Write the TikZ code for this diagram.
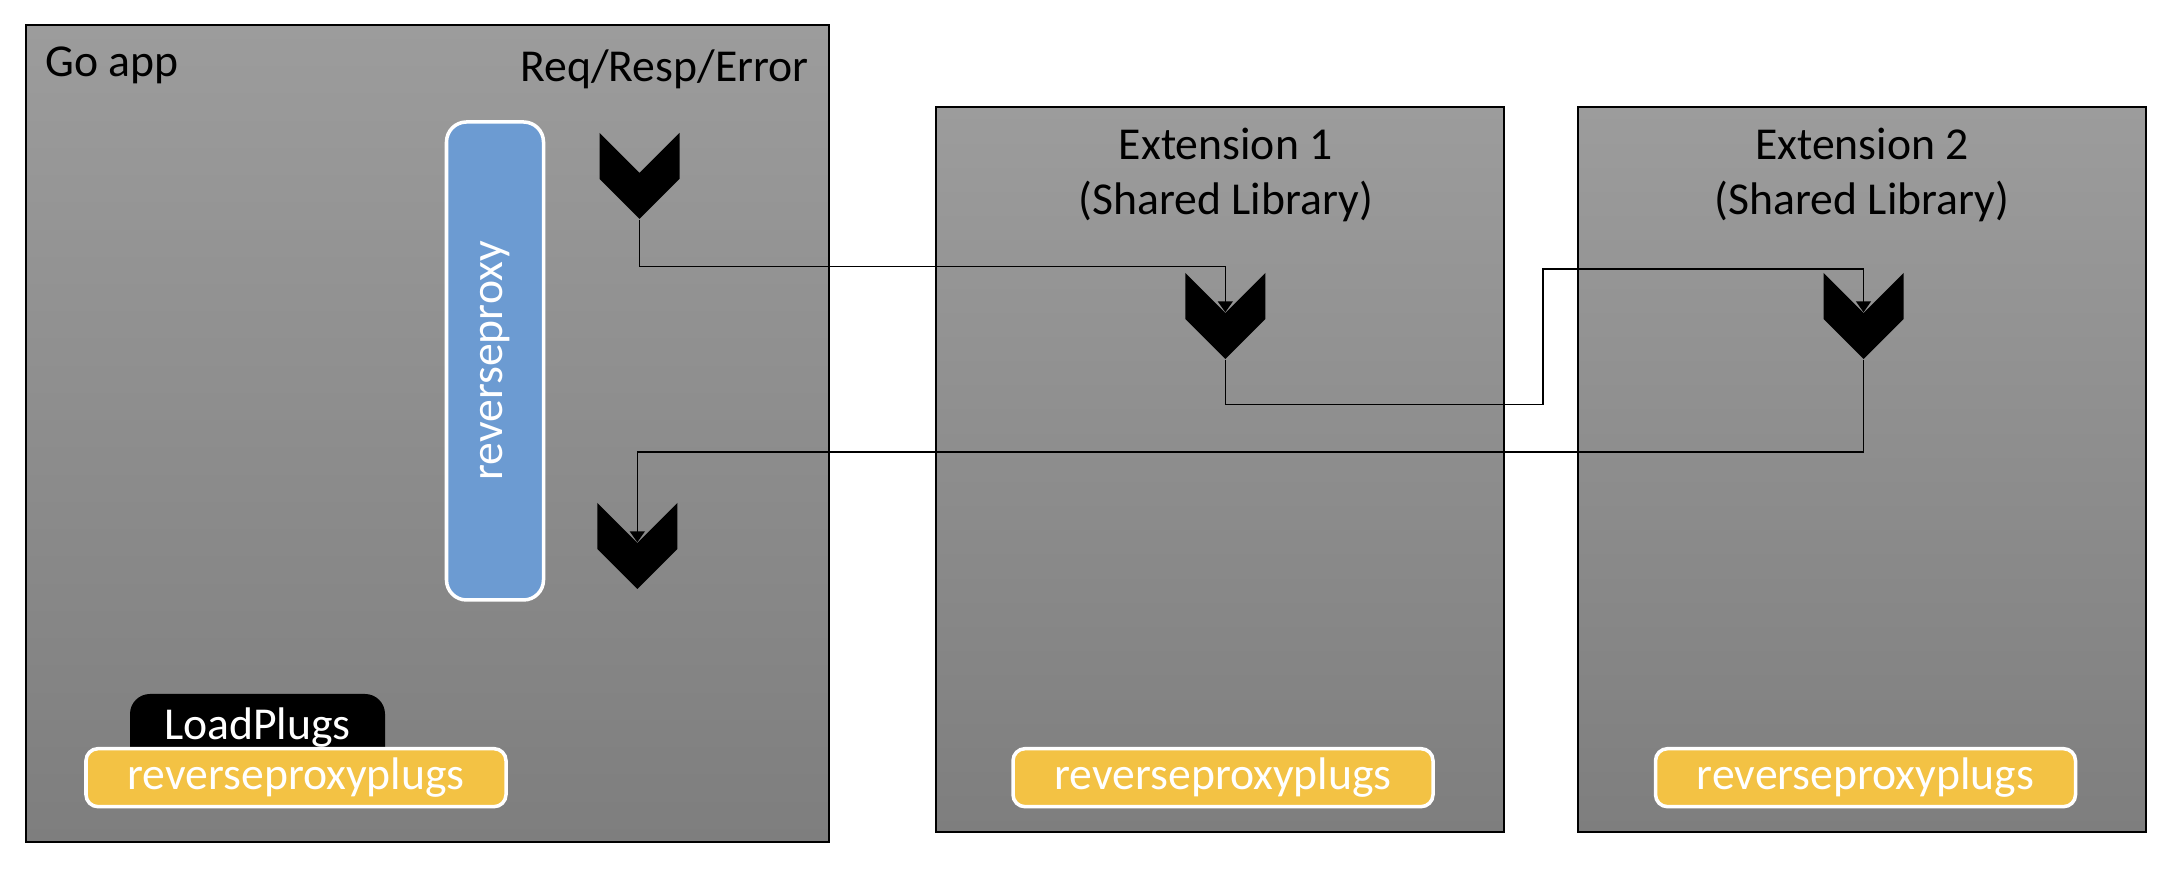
\documentclass[tikz,border=0pt]{standalone}
\usepackage{fontspec}
\setmainfont{Carlito}
\usetikzlibrary{arrows.meta}

\definecolor{boxtop}{HTML}{9C9C9C}
\definecolor{boxbot}{HTML}{7E7E7E}
\definecolor{proxyblue}{HTML}{6C9BD2}
\definecolor{plugyellow}{HTML}{F3C244}

\begin{document}
\begin{tikzpicture}[font=\fontsize{13}{15.4}\selectfont,>={Triangle[width=1.5mm,length=1.1mm]},
 panel/.style={draw=black,line width=0.4pt,top color=boxtop,bottom color=boxbot},
 plugbox/.style={draw=white,line width=1pt,fill=plugyellow,rounded corners=1.2mm,text=white,minimum width=4.2cm,minimum height=0.58cm,inner sep=0pt},
 chev/.style={inner sep=0pt,minimum width=8mm,minimum height=8.6mm,
  path picture={\fill (path picture bounding box.north west) -- ([yshift=-4mm]path picture bounding box.north) -- (path picture bounding box.north east) -- ([yshift=4mm]path picture bounding box.south east) -- (path picture bounding box.south) -- ([yshift=4mm]path picture bounding box.south west) -- cycle;}},
 conn/.style={line width=0.45pt,->}]
\useasboundingbox (0,0) rectangle (21.74,8.76);
% panels
\node[panel,minimum width=8.03cm,minimum height=8.17cm,inner sep=0pt] (goapp) at (4.275,4.425) {};
\node[panel,minimum width=5.68cm,minimum height=7.25cm,inner sep=0pt] (ext1) at (12.2,4.065) {};
\node[panel,minimum width=5.68cm,minimum height=7.25cm,inner sep=0pt] (ext2) at (18.62,4.065) {};
\node[anchor=west] (golbl) at (0.33,8.108) {Go app};
\node[anchor=east] (reqlbl) at (8.21,8.067) {Req/Resp/Error};
\node[align=center] (ext1lbl) at (12.257,7.01) {Extension 1\\(Shared Library)};
\node[align=center] (ext2lbl) at (18.62,7.01) {Extension 2\\(Shared Library)};
% go app content
\node[draw=white,line width=1pt,fill=proxyblue,rounded corners=2mm,minimum width=0.97cm,minimum height=4.78cm,inner sep=0pt] (proxy) at (4.95,5.15) {};
\node[rotate=90,text=white] (proxylbl) at (proxy.center) {reverseproxy};
\node[fill=black,rounded corners=2mm,text=white,anchor=north,minimum width=2.55cm,inner ysep=0pt,text height=4.6mm,text depth=4mm] (load) at (2.575,1.827) {LoadPlugs};
\node[plugbox] (plugs0) at (2.96,0.983) {reverseproxyplugs};
\node[plugbox] (plugs1) at (12.23,0.983) {reverseproxyplugs};
\node[plugbox] (plugs2) at (18.655,0.983) {reverseproxyplugs};
% chevrons
\node[chev] (ch1) at (6.395,7.0) {};
\node[chev] (ch2) at (12.253,5.60) {};
\node[chev] (ch3) at (18.635,5.60) {};
\node[chev] (ch4) at (6.373,3.30) {};
\coordinate (jog) at (15.43,6.067);
\draw[conn] (ch1.south) -- ++(0,-0.47) -| ([yshift=-4mm]ch2.north);
\draw[conn] (ch2.south) -- ++(0,-0.45) -| (jog) -| ([yshift=-4mm]ch3.north);
\draw[conn] (ch3.south) -- ++(0,-0.924) -| ([yshift=-4mm]ch4.north);
\end{tikzpicture}
\end{document}
